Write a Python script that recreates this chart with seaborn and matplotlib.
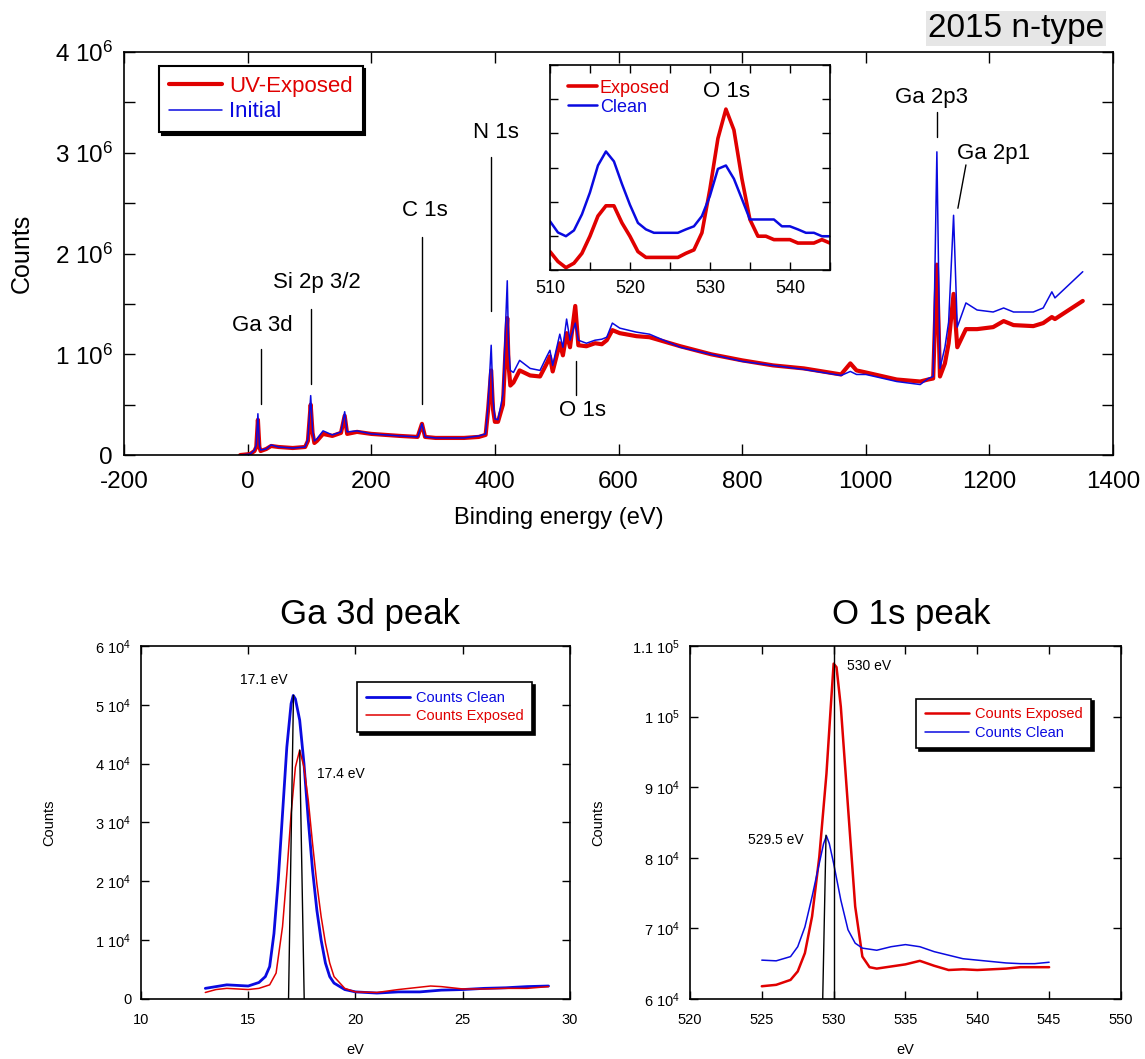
#!/usr/bin/env python3
# -*- coding: utf-8 -*-

"""
XPS survey of 2015 n-type GaN: UV-exposed vs initial, with Ga 3d / O 1s close-ups.
"""

import matplotlib.pyplot as plt
from matplotlib.ticker import FuncFormatter, MultipleLocator
import seaborn as sns

# --- Survey spectrum (binding energy in eV, counts in 1e6) ---
survey_ev = [-12, 4, 11, 14, 16.6, 19, 21, 30, 38, 50, 73, 93, 97.5, 102, 105, 108,
             112, 122, 137, 151, 157, 161, 177, 200, 223, 246, 275, 282, 287, 304,
             350, 374, 385, 389, 394, 397, 400, 405, 413, 416.5, 420, 422, 425, 430,
             440, 457, 473, 484, 489, 493.5, 505, 510, 516, 521.5, 530, 535, 548, 562,
             573, 581, 590, 602, 629, 650, 700, 750, 800, 850, 900, 960, 975, 985,
             1000, 1050, 1088, 1101, 1109, 1115, 1120, 1128, 1134, 1142, 1148, 1162,
             1180, 1206, 1223, 1239, 1271, 1287, 1301, 1306, 1351]
survey_initial = [0.00, 0.01, 0.05, 0.10, 0.41, 0.10, 0.05, 0.06, 0.10, 0.08, 0.07, 0.08,
                  0.16, 0.59, 0.25, 0.14, 0.16, 0.24, 0.20, 0.23, 0.43, 0.23, 0.24, 0.21,
                  0.20, 0.19, 0.18, 0.31, 0.18, 0.17, 0.17, 0.19, 0.21, 0.50, 1.09, 0.55,
                  0.36, 0.35, 0.60, 1.17, 1.73, 1.10, 0.84, 0.82, 0.94, 0.86, 0.84, 0.98,
                  1.04, 0.89, 1.20, 1.07, 1.35, 1.14, 1.31, 1.14, 1.11, 1.14, 1.15, 1.17,
                  1.31, 1.26, 1.22, 1.20, 1.07, 1.00, 0.93, 0.89, 0.85, 0.79, 0.83, 0.80,
                  0.80, 0.73, 0.70, 0.76, 0.78, 3.01, 0.86, 1.07, 1.32, 2.38, 1.27, 1.51,
                  1.44, 1.42, 1.46, 1.42, 1.42, 1.46, 1.62, 1.56, 1.82]
survey_exposed = [0.00, 0.01, 0.04, 0.08, 0.35, 0.08, 0.04, 0.06, 0.09, 0.08, 0.07, 0.08,
                  0.14, 0.50, 0.22, 0.12, 0.14, 0.21, 0.19, 0.22, 0.39, 0.21, 0.23, 0.21,
                  0.20, 0.19, 0.18, 0.31, 0.18, 0.17, 0.17, 0.18, 0.20, 0.45, 0.84, 0.45,
                  0.33, 0.33, 0.50, 0.95, 1.36, 0.90, 0.69, 0.72, 0.84, 0.79, 0.78, 0.91,
                  0.98, 0.83, 1.11, 0.99, 1.21, 1.07, 1.48, 1.09, 1.08, 1.11, 1.10, 1.14,
                  1.24, 1.21, 1.18, 1.17, 1.08, 1.00, 0.94, 0.89, 0.86, 0.80, 0.91, 0.84,
                  0.82, 0.75, 0.73, 0.75, 0.76, 1.89, 0.78, 0.91, 1.11, 1.60, 1.07, 1.25,
                  1.25, 1.27, 1.33, 1.29, 1.28, 1.31, 1.37, 1.35, 1.53]

# --- Inset: O 1s region of the survey (arbitrary units, 0-6) ---
inset_ev = [510, 511, 512, 513, 514, 515, 516, 517, 518, 519, 520, 521, 522, 523, 526,
            527, 528, 529, 530, 531, 532, 533, 534, 535, 536, 537, 538, 539, 540, 541,
            542, 543, 544, 545]
inset_clean = [1.43, 1.10, 0.99, 1.16, 1.63, 2.27, 3.06, 3.47, 3.18, 2.52, 1.91, 1.38,
               1.19, 1.09, 1.09, 1.19, 1.28, 1.58, 2.17, 2.96, 3.06, 2.67, 2.08, 1.48,
               1.48, 1.48, 1.48, 1.28, 1.28, 1.19, 1.09, 1.09, 0.99, 0.99]
inset_exposed = [0.54, 0.25, 0.07, 0.20, 0.49, 0.99, 1.58, 1.88, 1.88, 1.38, 0.99, 0.54,
                 0.37, 0.37, 0.37, 0.49, 0.59, 1.09, 2.37, 3.85, 4.71, 4.10, 2.67, 1.48,
                 0.99, 0.99, 0.89, 0.89, 0.89, 0.79, 0.79, 0.79, 0.89, 0.79]

# --- Ga 3d close-up (eV, counts in 1e4) ---
ga_ev_clean = [13, 14, 15, 15.5, 15.8, 16.0, 16.2, 16.4, 16.6, 16.8, 17.0, 17.1, 17.2,
               17.4, 17.6, 17.8, 18.0, 18.2, 18.4, 18.6, 18.8, 19.0, 19.5, 20, 21, 22,
               23, 24, 25, 26, 27, 28, 29]
ga_clean = [0.18, 0.24, 0.22, 0.28, 0.38, 0.55, 1.11, 2.02, 3.15, 4.28, 5.02, 5.16, 5.10,
            4.74, 4.00, 3.04, 2.19, 1.51, 1.00, 0.61, 0.38, 0.27, 0.16, 0.12, 0.10, 0.12,
            0.12, 0.15, 0.16, 0.18, 0.19, 0.21, 0.22]
ga_ev_exposed = [13, 13.5, 14, 15, 15.5, 16, 16.3, 16.6, 16.8, 17.0, 17.2, 17.4, 17.6,
                 17.8, 18.0, 18.2, 18.4, 18.6, 18.8, 19.0, 19.5, 20, 21, 22, 23, 23.5,
                 24, 25, 26, 27, 28, 29]
ga_exposed = [0.11, 0.16, 0.18, 0.16, 0.18, 0.24, 0.44, 1.23, 2.13, 3.15, 3.94, 4.23, 3.94,
              3.38, 2.64, 1.96, 1.40, 0.95, 0.61, 0.38, 0.18, 0.12, 0.11, 0.16, 0.20, 0.22,
              0.21, 0.17, 0.17, 0.18, 0.18, 0.21]

# --- O 1s close-up (eV, counts in 1e3) ---
o_ev_exposed = [525, 526, 527, 527.5, 528, 528.5, 529, 529.5, 529.8, 530.0, 530.2, 530.5,
                531, 531.5, 532, 532.5, 533, 534, 535, 536, 537, 538, 539, 540, 541, 542,
                543, 544, 545]
o_exposed = [61.8, 62.0, 62.7, 63.9, 66.5, 71.7, 80.1, 91.9, 101.4, 107.5, 107.0, 101.4,
             87.2, 73.1, 66.0, 64.5, 64.3, 64.6, 64.9, 65.4, 64.7, 64.1, 64.2, 64.1, 64.2,
             64.3, 64.5, 64.5, 64.5]
o_ev_clean = [525, 526, 527, 527.5, 528, 528.5, 529, 529.3, 529.5, 529.7, 530, 530.5, 531,
              531.5, 532, 533, 534, 535, 536, 537, 538, 539, 540, 541, 542, 543, 544, 545]
o_clean = [65.5, 65.4, 66.0, 67.4, 70.2, 74.5, 79.2, 82.0, 83.1, 82.0, 79.2, 74.0, 69.8,
           67.9, 67.2, 66.9, 67.4, 67.7, 67.4, 66.7, 66.2, 65.7, 65.5, 65.3, 65.1, 65.0,
           65.0, 65.2]

RED = "#e00000"
BLUE = "#0a0ae0"

sns.set_style("ticks")
plt.rcParams["font.family"] = ["Liberation Sans", "DejaVu Sans"]
plt.rcParams["mathtext.default"] = "regular"
plt.rcParams["axes.unicode_minus"] = False
for key in ["text.color", "axes.labelcolor", "xtick.color", "ytick.color"]:
    plt.rcParams[key] = "black"

fig = plt.figure(figsize=(11.45, 10.59), dpi=100)


def sci_fmt(power):
    def f(v, pos):
        if abs(v) < 1e-12:
            return "0"
        m = v / 10 ** power
        s = f"{m:.1f}".rstrip("0").rstrip(".")
        return f"{s} 10$^{{{power}}}$"
    return f


def style_axes(ax, size, length=7, pad=7):
    ax.tick_params(direction="in", top=True, right=True, length=length, width=1,
                   labelsize=size, pad=pad, colors="black")
    for sp in ax.spines.values():
        sp.set_visible(True)
        sp.set_linewidth(1.2)
        sp.set_color("black")


shadow = {"shade": 1.0, "alpha": 1.0}

# ---------------- main survey ----------------
ax = fig.add_axes([0.1083, 0.5703, 0.8638, 0.3805])
sns.lineplot(x=survey_ev, y=[v * 1e6 for v in survey_exposed], ax=ax, color=RED,
             lw=3.0, sort=False, estimator=None, label="UV-Exposed")
sns.lineplot(x=survey_ev, y=[v * 1e6 for v in survey_initial], ax=ax, color=BLUE,
             lw=1.1, sort=False, estimator=None, label="Initial")
ax.set_xlim(-200, 1400)
ax.set_ylim(0, 4e6)
ax.xaxis.set_major_locator(MultipleLocator(200))
ax.yaxis.set_major_locator(MultipleLocator(1e6))
ax.yaxis.set_minor_locator(MultipleLocator(5e5))
ax.yaxis.set_major_formatter(FuncFormatter(sci_fmt(6)))
style_axes(ax, 17.5, length=8, pad=8)
ax.tick_params(axis="x", pad=11.5)
ax.tick_params(which="minor", direction="in", left=True, right=True, length=8, width=1)
ax.set_xlabel("Binding energy (eV)", fontsize=17)
ax.set_ylabel("Counts", fontsize=18)
ax.xaxis.set_label_coords(0.44, -0.13)
ax.yaxis.set_label_coords(-0.091, 0.5)
leg = ax.legend(loc="upper left", bbox_to_anchor=(0.1389, 0.9377),
                bbox_transform=fig.transFigure, borderaxespad=0, fontsize=16,
                frameon=True, fancybox=False, shadow=shadow, edgecolor="black",
                framealpha=1, handlelength=2.4, handletextpad=0.3, borderpad=0.45,
                labelspacing=0.2)
leg.get_frame().set_linewidth(1.5)
for t, c in zip(leg.get_texts(), [RED, BLUE]):
    t.set_color(c)

peak_labels = [
    ("Ga 3d", 23, 1.29e6, 21.6, 0.51e6, 21.6, 1.05e6),
    ("Si 2p 3/2", 112, 1.71e6, 102.5, 0.71e6, 102.5, 1.45e6),
    ("C 1s", 287, 2.43e6, 282, 0.51e6, 282, 2.16e6),
    ("N 1s", 402, 3.2e6, 393.5, 1.43e6, 393.5, 2.96e6),
    ("O 1s", 542, 0.44e6, 532, 0.60e6, 532, 0.93e6),
    ("Ga 2p3", 1106, 3.55e6, 1115, 3.16e6, 1115, 3.41e6),
    ("Ga 2p1", 1206, 2.99e6, 1162, 2.88e6, 1149, 2.45e6),
]
for name, tx, ty, x0, y0, x1, y1 in peak_labels:
    ax.plot([x0, x1], [y0, y1], color="black", lw=1.0)
    ax.text(tx, ty, name, fontsize=16, ha="center", va="center")

fig.text(1104 / 1145, 1 - 28.5 / 1059, "2015 n-type", fontsize=24, ha="right",
         va="center", bbox=dict(facecolor="#e6e6e6", edgecolor="none", pad=1.5))

# ---------------- inset ----------------
axi = fig.add_axes([0.4803, 0.7450, 0.2445, 0.1936])
sns.lineplot(x=inset_ev, y=inset_exposed, ax=axi, color=RED, lw=2.6, sort=False,
             estimator=None, label="Exposed")
sns.lineplot(x=inset_ev, y=inset_clean, ax=axi, color=BLUE, lw=1.8, sort=False,
             estimator=None, label="Clean")
axi.set_xlim(510, 545)
axi.set_ylim(0, 6)
axi.set_xticks([510, 520, 530, 540])
axi.xaxis.set_minor_locator(MultipleLocator(5))
axi.yaxis.set_major_locator(MultipleLocator(1))
axi.set_yticklabels([])
style_axes(axi, 13, length=6, pad=7)
axi.tick_params(which="minor", direction="in", top=True, bottom=True, length=6, width=1)
axi.set_xlabel("")
axi.set_ylabel("")
lgi = axi.legend(loc="upper left", bbox_to_anchor=(0.02, 0.99), fontsize=13,
                 frameon=False, handlelength=1.6, handletextpad=0.15, labelspacing=0.1,
                 borderpad=0.2)
for t, c in zip(lgi.get_texts(), [RED, BLUE]):
    t.set_color(c)
axi.text(0.63, 0.873, "O 1s", transform=axi.transAxes, fontsize=16, ha="center",
         va="center")

# ---------------- Ga 3d close-up ----------------
axg = fig.add_axes([0.1231, 0.0567, 0.3747, 0.3333])
sns.lineplot(x=ga_ev_clean, y=[v * 1e4 for v in ga_clean], ax=axg, color=BLUE, lw=2.0,
             sort=False, estimator=None, label="Counts Clean")
sns.lineplot(x=ga_ev_exposed, y=[v * 1e4 for v in ga_exposed], ax=axg, color=RED,
             lw=1.1, sort=False, estimator=None, label="Counts Exposed")
axg.plot([16.88, 17.11], [0, 5.16e4], color="black", lw=1.0)
axg.plot([17.61, 17.40], [0, 4.23e4], color="black", lw=1.0)
axg.text(15.71, 5.42e4, "17.1 eV", fontsize=10, ha="center", va="center")
axg.text(19.34, 3.83e4, "17.4 eV", fontsize=10, ha="center", va="center")
axg.set_xlim(10, 30)
axg.set_ylim(0, 6e4)
axg.xaxis.set_major_locator(MultipleLocator(5))
axg.yaxis.set_major_locator(MultipleLocator(1e4))
axg.yaxis.set_major_formatter(FuncFormatter(sci_fmt(4)))
style_axes(axg, 10.5, length=6, pad=7)
axg.tick_params(axis="x", pad=10)
axg.set_xlabel("eV", fontsize=10.5)
axg.set_ylabel("Counts", fontsize=10.5)
axg.xaxis.set_label_coords(0.5, -0.125)
axg.yaxis.set_label_coords(-0.198, 0.5)
axg.text(0.534, 1.088, "Ga 3d peak", transform=axg.transAxes, fontsize=25,
         ha="center", va="center")
lg = axg.legend(loc="upper left", bbox_to_anchor=(0.504, 0.898), borderaxespad=0,
                fontsize=10.5, frameon=True, fancybox=False, shadow=shadow,
                edgecolor="black", framealpha=1, handlelength=3.0, handletextpad=0.4,
                labelspacing=0.3, borderpad=0.6)
lg.get_frame().set_linewidth(1.2)
for t, c in zip(lg.get_texts(), [BLUE, RED]):
    t.set_color(c)

# ---------------- O 1s close-up ----------------
axo = fig.add_axes([0.6026, 0.0567, 0.3764, 0.3333])
sns.lineplot(x=o_ev_exposed, y=[v * 1e3 for v in o_exposed], ax=axo, color=RED, lw=1.8,
             sort=False, estimator=None, label="Counts Exposed")
sns.lineplot(x=o_ev_clean, y=[v * 1e3 for v in o_clean], ax=axo, color=BLUE, lw=1.1,
             sort=False, estimator=None, label="Counts Clean")
axo.plot([530, 530], [6e4, 1.1e5], color="black", lw=1.0)
axo.plot([529.24, 529.47], [6e4, 8.32e4], color="black", lw=1.0)
axo.text(532.47, 1.071e5, "530 eV", fontsize=10, ha="center", va="center")
axo.text(525.95, 8.25e4, "529.5 eV", fontsize=10, ha="center", va="center")
axo.set_xlim(520, 550)
axo.set_ylim(6e4, 1.1e5)
axo.xaxis.set_major_locator(MultipleLocator(5))
axo.yaxis.set_major_locator(MultipleLocator(1e4))
axo.yaxis.set_major_formatter(
    FuncFormatter(lambda v, p: sci_fmt(5)(v, p) if v >= 1e5 - 1 else sci_fmt(4)(v, p)))
style_axes(axo, 10.5, length=6, pad=7)
axo.tick_params(axis="x", pad=10)
axo.set_xlabel("eV", fontsize=10.5)
axo.set_ylabel("Counts", fontsize=10.5)
axo.xaxis.set_label_coords(0.5, -0.125)
axo.yaxis.set_label_coords(-0.197, 0.5)
axo.text(0.513, 1.088, "O 1s peak", transform=axo.transAxes, fontsize=25,
         ha="center", va="center")
lo = axo.legend(loc="upper left", bbox_to_anchor=(0.525, 0.851), borderaxespad=0,
                fontsize=10.5, frameon=True, fancybox=False, shadow=shadow,
                edgecolor="black", framealpha=1, handlelength=3.0, handletextpad=0.4,
                labelspacing=0.3, borderpad=0.6)
lo.get_frame().set_linewidth(1.2)
for t, c in zip(lo.get_texts(), [RED, BLUE]):
    t.set_color(c)

fig.savefig("out.png", dpi=100)
